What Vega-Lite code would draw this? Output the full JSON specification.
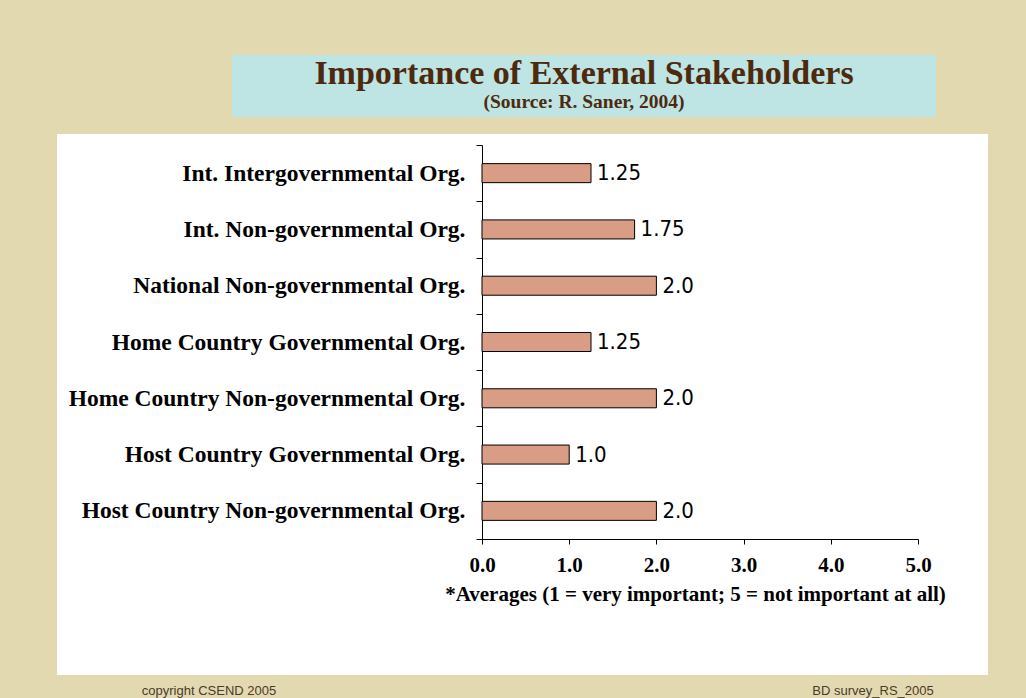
{
  "$schema": "https://vega.github.io/schema/vega-lite/v6.json",
  "background": "#e3d9b1",
  "padding": {"left": 57, "top": 55, "right": 38, "bottom": 0},
  "config": {"view": {"stroke": null}},
  "datasets": {
    "stakeholders": [
      {"org": "Int. Intergovernmental Org.", "value": 1.25, "label": "1.25"},
      {"org": "Int. Non-governmental Org.", "value": 1.75, "label": "1.75"},
      {"org": "National Non-governmental Org.", "value": 2.0, "label": "2.0"},
      {"org": "Home Country Governmental Org.", "value": 1.25, "label": "1.25"},
      {"org": "Home Country Non-governmental Org.", "value": 2.0, "label": "2.0"},
      {"org": "Host Country Governmental Org.", "value": 1.0, "label": "1.0"},
      {"org": "Host Country Non-governmental Org.", "value": 2.0, "label": "2.0"}
    ],
    "heading": [
      {"text": "Importance of External Stakeholders", "kind": "title"},
      {"text": "(Source: R. Saner, 2004)", "kind": "subtitle"}
    ],
    "footer": [
      {"text": "copyright CSEND 2005"},
      {"text": "BD survey_RS_2005"}
    ]
  },
  "spacing": 5,
  "vconcat": [
    {
      "spacing": 0,
      "hconcat": [
        {"width": 175, "height": 62, "data": {"values": []}, "mark": "text", "encoding": {}},
        {
          "width": 704, "height": 62,
          "view": {"fill": "#bee4e3"},
          "data": {"name": "heading"},
          "mark": {"type": "text", "font": "Liberation Serif", "fontWeight": "bold", "color": "#4d2a0e", "baseline": "alphabetic", "align": "center"},
          "encoding": {
            "text": {"field": "text"},
            "y": {"field": "kind", "type": "nominal", "sort": null, "scale": {"type": "point", "domain": ["title", "subtitle"], "range": [29, 53], "padding": 0}, "axis": null},
            "size": {"field": "kind", "type": "ordinal", "scale": {"domain": ["title", "subtitle"], "range": [34, 19.5]}, "legend": null}
          }
        }
      ]
    },
    {
      "spacing": 0,
      "vconcat": [
        {
          "width": 931, "height": 541,
          "view": {"fill": "white"},
          "data": {"name": "stakeholders"},
          "encoding": {
            "y": {
              "field": "org", "type": "nominal", "sort": null,
              "scale": {"range": [11, 405], "paddingInner": 0, "paddingOuter": 0},
              "axis": {
                "title": null, "orient": "left", "offset": -425,
                "domainColor": "black", "tickColor": "black", "tickSize": 6, "tickBand": "extent",
                "labelFont": "Liberation Serif", "labelFontWeight": "bold", "labelFontSize": 23.5,
                "labelColor": "black", "labelPadding": 11, "labelLimit": 600
              }
            },
            "x": {
              "field": "value", "type": "quantitative",
              "scale": {"domain": [0, 5], "range": [425, 861], "nice": false},
              "axis": {
                "orient": "bottom", "offset": -136, "values": [0, 1, 2, 3, 4, 5], "format": ".1f",
                "grid": false, "tickSize": 5, "tickColor": "black", "domainColor": "black",
                "labelFont": "Liberation Serif", "labelFontWeight": "bold", "labelFontSize": 21,
                "labelColor": "black", "labelPadding": 10, "labelFlush": false,
                "title": "*Averages (1 = very important; 5 = not important at all)",
                "titleFont": "Liberation Serif", "titleFontWeight": "bold", "titleFontSize": 21,
                "titleColor": "black", "titlePadding": 8, "titleX": 638
              }
            }
          },
          "layer": [
            {"mark": {"type": "bar", "height": {"band": 0.338}, "fill": "#d99c84", "stroke": "black", "strokeWidth": 1}},
            {
              "mark": {"type": "text", "align": "left", "baseline": "middle", "dx": 6, "font": "Liberation Sans Narrow, DejaVu Sans Condensed, Arial Narrow, sans-serif", "fontSize": 22, "color": "black"},
              "encoding": {"text": {"field": "label"}}
            }
          ]
        },
        {
          "width": 931, "height": 24,
          "data": {"name": "footer"},
          "mark": {"type": "text", "font": "Liberation Sans", "fontSize": 13, "color": "#4a3a2a", "align": "center", "baseline": "middle", "dy": 4},
          "encoding": {
            "text": {"field": "text"},
            "x": {"field": "text", "type": "nominal", "sort": null, "scale": {"type": "point", "domain": ["copyright CSEND 2005", "BD survey_RS_2005"], "range": [152, 816], "padding": 0}, "axis": null}
          }
        }
      ]
    }
  ]
}
